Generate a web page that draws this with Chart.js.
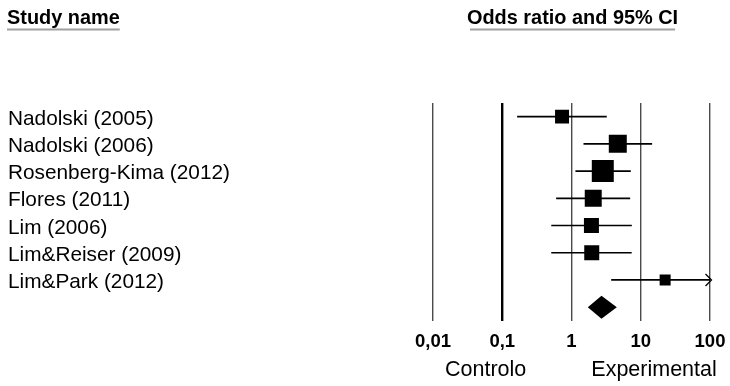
<!DOCTYPE html>
<html>
<head>
<meta charset="utf-8">
<script src="https://cdn.jsdelivr.net/npm/chart.js@4.4.1/dist/chart.umd.min.js"></script>
<style>
  html, body { margin: 0; padding: 0; background: #fff; }
  #wrap { width: 730px; height: 386px; }
</style>
</head>
<body>
<div id="wrap"><canvas id="forest" width="730" height="386"></canvas></div>
<script>
// Studies and their odds ratios with 95% confidence limits
const studies = [
  'Nadolski (2005)',
  'Nadolski (2006)',
  'Rosenberg-Kima (2012)',
  'Flores (2011)',
  'Lim (2006)',
  'Lim&Reiser (2009)',
  'Lim&Park (2012)'
];
const oddsRatio = [0.73, 4.66, 2.83, 2.06, 1.94, 1.96, 22.5];
const ciLower   = [0.164, 1.49, 1.14, 0.60, 0.51, 0.51, 3.74];
const ciUpper   = [3.23, 14.6, 7.18, 7.03, 7.43, 7.40, 135];
// relative weights (%), drive the square sizes
const weights   = [10.5, 17.4, 26.0, 15.5, 12.1, 12.1, 6.5];

// pooled estimate
const pooledOR    = [2.71];
const pooledLower = [1.72];
const pooledUpper = [4.51];

const axisTicks  = [0.01, 0.1, 1, 10, 100];
const tickLabels = ['0,01', '0,1', '1', '10', '100'];
const sideLabels = ['Controlo', 'Experimental'];
const headers    = ['Study name', 'Odds ratio and 95% CI'];

const FONT = "'Liberation Sans', Arial, Helvetica, sans-serif";
const rowCount = studies.length + 1;

// square side grows with the square root of the weight
const squareSide = w => 4.31 * Math.sqrt(w);

const ciDatasets = studies.map((s, i) => ({
  type: 'line',
  label: s,
  data: [{ x: ciLower[i], y: i + 1 }, { x: ciUpper[i], y: i + 1 }],
  borderColor: '#000',
  borderWidth: 1.7,
  pointRadius: 0,
  order: 2
}));

const squares = {
  type: 'scatter',
  label: 'Odds ratio',
  data: oddsRatio.map((v, i) => ({ x: v, y: i + 1 })),
  pointStyle: 'rect',
  pointRadius: weights.map(w => squareSide(w) / Math.SQRT2),
  backgroundColor: '#000',
  borderWidth: 0,
  order: 0
};

function text(ctx, str, x, y, font, align) {
  ctx.font = font;
  ctx.textBaseline = 'alphabetic';
  ctx.textAlign = align;
  ctx.fillText(str, x, y);
  return ctx.measureText(str).width;
}

const forestDecor = {
  id: 'forestDecor',
  afterDatasetsDraw(chart) {
    const { ctx, chartArea, scales: { x, y } } = chart;
    ctx.save();
    ctx.fillStyle = '#000';

    // pooled diamond
    const cy = y.getPixelForValue(rowCount);
    const half = 11.5;
    const xl = x.getPixelForValue(pooledLower[0]);
    const xm = x.getPixelForValue(pooledOR[0]);
    const xr = x.getPixelForValue(pooledUpper[0]);
    ctx.beginPath();
    ctx.moveTo(xl, cy);
    ctx.lineTo(xm, cy - half);
    ctx.lineTo(xr, cy);
    ctx.lineTo(xm, cy + half);
    ctx.closePath();
    ctx.fill();

    // open arrowhead where an interval runs past the axis
    ctx.strokeStyle = '#000';
    ctx.lineWidth = 1.3;
    ciUpper.forEach((hi, i) => {
      if (hi > x.max) {
        const tipX = chartArea.right + 1.5;
        const py = y.getPixelForValue(i + 1);
        ctx.beginPath();
        ctx.moveTo(tipX - 6, py - 6);
        ctx.lineTo(tipX, py);
        ctx.lineTo(tipX - 6, py + 6);
        ctx.stroke();
      }
    });
    ctx.restore();
  },
  afterDraw(chart) {
    const { ctx, chartArea, scales: { y } } = chart;
    ctx.save();
    ctx.fillStyle = '#000';

    // column headers with their rules
    const hFont = 'bold 19.9px ' + FONT;
    const w1 = text(ctx, headers[0], 7, 24, hFont, 'left');
    const w2 = text(ctx, headers[1], 467, 24, hFont, 'left');
    ctx.strokeStyle = '#a0a0a0';
    ctx.lineWidth = 2;
    ctx.beginPath();
    ctx.moveTo(7, 29.5); ctx.lineTo(7 + w1, 29.5);
    ctx.moveTo(470, 29.5); ctx.lineTo(467 + w2 - 3, 29.5);
    ctx.stroke();

    // study names on each row
    const nFont = '20.8px ' + FONT;
    studies.forEach((s, i) => {
      text(ctx, s, 8, y.getPixelForValue(i + 1) + 8, nFont, 'left');
    });

    // direction labels under the axis
    const sFont = '21.5px ' + FONT;
    const wArea = chartArea.right - chartArea.left;
    text(ctx, sideLabels[0], chartArea.left + 0.19 * wArea, 376, sFont, 'center');
    text(ctx, sideLabels[1], chartArea.left + 0.798 * wArea, 376, sFont, 'center');
    ctx.restore();
  }
};

new Chart(document.getElementById('forest'), {
  data: { datasets: [squares, ...ciDatasets] },
  options: {
    responsive: false,
    animation: false,
    devicePixelRatio: 1,
    layout: { padding: { top: 103, left: 433, right: 20, bottom: 23 } },
    plugins: { legend: { display: false }, tooltip: { enabled: false } },
    scales: {
      x: {
        type: 'logarithmic',
        position: 'bottom',
        min: axisTicks[0],
        max: axisTicks[axisTicks.length - 1],
        afterBuildTicks: scale => {
          scale.ticks = axisTicks.map(v => ({ value: v, major: true }));
        },
        afterFit: scale => {
          // the outer tick labels fit inside the layout padding already
          scale.paddingLeft = 0;
          scale.paddingRight = 0;
        },
        border: { display: false },
        grid: {
          drawTicks: false,
          color: c => (c.tick && c.tick.value === 0.1 ? '#000' : '#4a4a4a'),
          lineWidth: c => (c.tick && c.tick.value === 0.1 ? 2.4 : 1.4)
        },
        ticks: {
          autoSkip: false,
          maxRotation: 0,
          padding: 10,
          color: '#000',
          font: { family: FONT, size: 18.5, weight: 'bold' },
          callback: (v, i) => tickLabels[i]
        }
      },
      y: {
        type: 'linear',
        reverse: true,
        min: 0.5,
        max: rowCount + 0.5,
        display: false
      }
    }
  },
  plugins: [forestDecor]
});
</script>
</body>
</html>
